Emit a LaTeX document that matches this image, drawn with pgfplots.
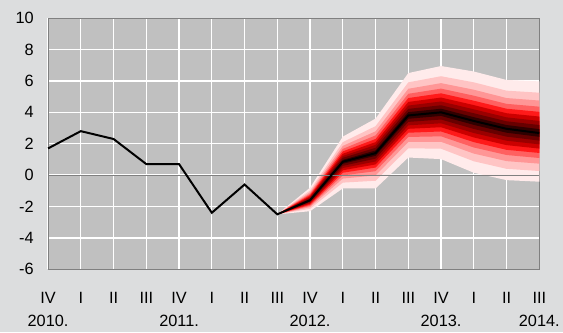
\documentclass[border=0pt]{standalone}
\usepackage{fontspec}
\setmainfont{Liberation Sans}
\usepackage{xcolor}
\usepackage{pgfplots}
\pgfplotsset{compat=1.18}
\usepackage{pgfplotstable}
\usepgfplotslibrary{fillbetween}
\definecolor{bggrey}{HTML}{DCDDDE}
\definecolor{plotgrey}{HTML}{C0C0C0}
\definecolor{framegrey}{HTML}{808080}
\definecolor{band1}{HTML}{300000}
\definecolor{band2}{HTML}{680000}
\definecolor{band3}{HTML}{9A0000}
\definecolor{band4}{HTML}{CC0000}
\definecolor{band5}{HTML}{FF1A1A}
\definecolor{band6}{HTML}{FF6060}
\definecolor{band7}{HTML}{FF9696}
\definecolor{band8}{HTML}{FFC4C4}
\definecolor{band9}{HTML}{FFEBEB}

\pgfplotstableread{
x  c     u1    u2    u3    u4    u5    u6    u7    u8    u9    l1    l2    l3    l4    l5    l6    l7    l8    l9
7  -2.5  -2.5  -2.5  -2.5  -2.5  -2.5  -2.5  -2.5  -2.5  -2.5  -2.5  -2.5  -2.5  -2.5  -2.5  -2.5  -2.5  -2.5  -2.5
8  -1.6  -1.54 -1.48 -1.41 -1.35 -1.27 -1.19 -1.10 -0.98 -0.80 -1.65 -1.71 -1.76 -1.82 -1.89 -1.96 -2.04 -2.15 -2.30
9  0.85  0.97  1.10  1.22  1.36  1.51  1.67  1.86  2.10  2.45  0.72  0.59  0.45  0.31  0.15  -0.02 -0.22 -0.48 -0.85
10 1.4   1.57  1.74  1.92  2.10  2.30  2.53  2.79  3.12  3.60  1.23  1.05  0.87  0.68  0.48  0.25  -0.02 -0.36 -0.85
11 3.8   4.01  4.22  4.43  4.66  4.91  5.18  5.50  5.91  6.50  3.59  3.39  3.17  2.95  2.70  2.43  2.11  1.71  1.12
12 4.0   4.23  4.45  4.69  4.94  5.21  5.51  5.86  6.30  6.95  3.77  3.54  3.30  3.05  2.78  2.47  2.12  1.68  1.02
13 3.45  3.69  3.94  4.19  4.46  4.74  5.06  5.44  5.91  6.60  3.20  2.94  2.68  2.40  2.10  1.76  1.37  0.88  0.15
14 2.95  3.19  3.43  3.68  3.94  4.23  4.54  4.91  5.38  6.06  2.70  2.45  2.19  1.91  1.61  1.28  0.89  0.40  -0.32
15 2.68  2.93  3.19  3.45  3.73  4.03  4.36  4.75  5.25  5.97  2.44  2.20  1.96  1.69  1.41  1.09  0.73  0.26  -0.42
}\fan

\pgfplotstableread{
x  y
0  1.7
1  2.8
2  2.3
3  0.7
4  0.7
5  -2.4
6  -0.6
7  -2.5
8  -1.6
9  0.85
10 1.4
11 3.8
12 4.0
13 3.45
14 2.95
15 2.68
}\central

\begin{document}
\pagecolor{bggrey}
\begin{tikzpicture}
\path (-45.7bp,-63.5bp) rectangle (517.3bp,271.5bp);
\begin{axis}[
  scale only axis,
  width=495.3bp, height=253.2bp,
  xmin=0, xmax=15, ymin=-6, ymax=10,
  axis background/.style={fill=plotgrey},
  axis line style={draw=framegrey, line width=1bp},
  xtick={0,...,15},
  xticklabels={IV,I,II,III,IV,I,II,III,IV,I,II,III,IV,I,II,III},
  ytick={-6,-4,...,10},
  yticklabels={-6,-4,-2,0,2,4,6,8,10},
  major tick length=0pt,
  grid=major,
  major grid style={white, line width=1.3bp},
  tick label style={font=\fontsize{16.5}{18}\selectfont},
  xticklabel style={text height=12bp, text depth=0bp, yshift=-19bp},
  yticklabel style={xshift=-11bp},
  extra x ticks={0,4,8,12,15},
  extra x tick labels={2010.,2011.,2012.,2013.,2014.},
  extra x tick style={grid=none, xticklabel style={yshift=-23bp}},
  clip=false,
]
\pgfplotsinvokeforeach{9,8,...,1}{
  \addplot[draw=none, name path=u#1, forget plot] table[x=x, y=u#1] {\fan};
  \addplot[draw=none, name path=l#1, forget plot] table[x=x, y=l#1] {\fan};
  \addplot[fill=band#1, draw=none, forget plot] fill between[of=u#1 and l#1];
}
\addplot[framegrey, line width=1bp, forget plot] coordinates {(0,0) (15,0)};
\addplot[black, line width=2bp, forget plot] table[x=x, y=y] {\central};
\end{axis}
\end{tikzpicture}
\end{document}
